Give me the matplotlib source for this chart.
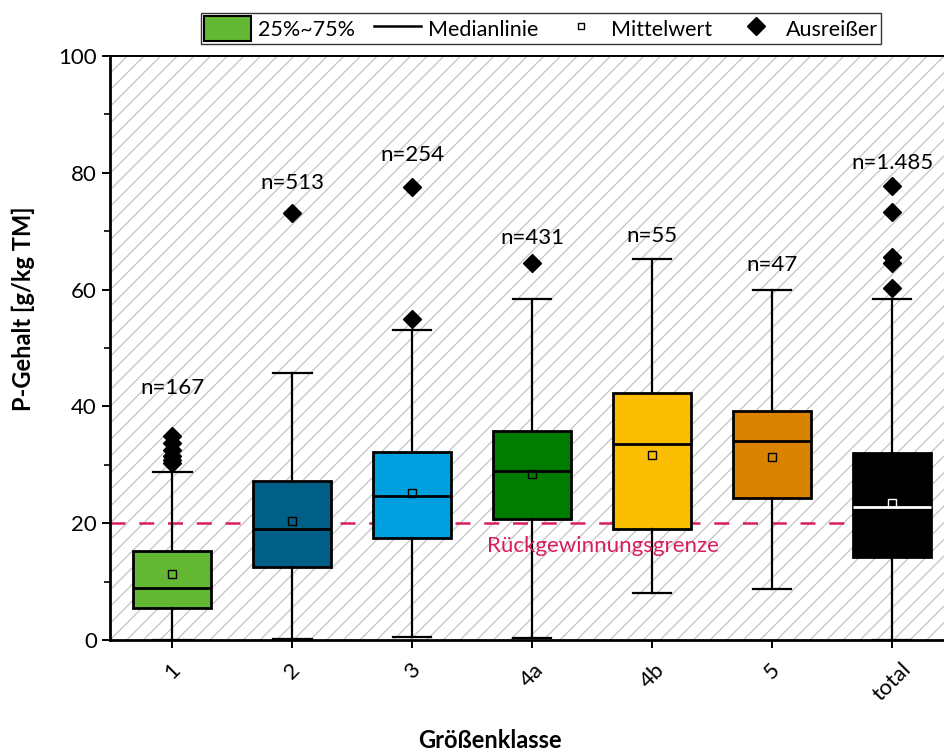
import matplotlib
matplotlib.use("Agg")
import matplotlib.pyplot as plt
from matplotlib.patches import Patch, Rectangle
from matplotlib.lines import Line2D

plt.rcParams['font.family'] = ['Lato', 'DejaVu Sans']
plt.rcParams['hatch.linewidth'] = 0.9

# P content per size class (g/kg TM), box statistics
classes  = ['1', '2', '3', '4a', '4b', '5', 'total']
q1       = [5.5, 12.5, 17.4, 20.7, 19.0, 24.3, 14.2]
median   = [8.85, 19.0, 24.7, 29.0, 33.6, 34.0, 22.8]
q3       = [15.2, 27.3, 32.2, 35.8, 42.3, 39.2, 32.1]
mean     = [11.3, 20.3, 25.1, 28.4, 31.7, 31.3, 23.4]
whis_lo  = [0.0, 0.2, 0.5, 0.4, 8.0, 8.7, 0.0]
whis_hi  = [28.8, 45.7, 53.1, 58.4, 65.3, 60.0, 58.4]
outliers = [[30.3, 30.8, 31.5, 32.5, 33.8, 35.0],
            [73.2],
            [55.0, 77.6],
            [64.5],
            [],
            [],
            [60.2, 64.5, 65.6, 73.3, 77.7]]
n_labels = ['n=167', 'n=513', 'n=254', 'n=431', 'n=55', 'n=47', 'n=1.485']
n_label_y = [43.2, 78.3, 83.0, 68.8, 69.2, 64.2, 81.7]
box_colors = ['#62b832', '#005f87', '#00a0e0', '#007d00', '#fbbd00', '#d98300', '#000000']
limit = 20

stats = [dict(label=c, q1=a, med=m, q3=b, mean=mu, whislo=lo, whishi=hi, fliers=f)
         for c, a, m, b, mu, lo, hi, f in zip(classes, q1, median, q3, mean,
                                               whis_lo, whis_hi, outliers)]

fig = plt.figure(figsize=(9.44, 7.54), dpi=100)
ax = fig.add_axes([110 / 944, 1 - 640 / 754, 842 / 944, 584 / 754])

# hatched plot background
ax.add_patch(Rectangle((0, 0), 1, 1, transform=ax.transAxes, facecolor='white',
                       edgecolor='#c4c4c4', hatch='//', lw=0, zorder=0))

pos = list(range(1, len(classes) + 1))
bp = ax.bxp(stats, positions=pos, widths=0.65, capwidths=0.32, patch_artist=True,
            showmeans=True,
            boxprops=dict(lw=2.0, edgecolor='black'),
            whiskerprops=dict(lw=1.6, color='black'),
            capprops=dict(lw=1.6, color='black'),
            medianprops=dict(lw=2.0, color='black'),
            meanprops=dict(marker='s', markersize=5.5, markerfacecolor='none',
                           markeredgecolor='black', markeredgewidth=1.0),
            flierprops=dict(marker='D', markersize=9, markerfacecolor='black',
                            markeredgecolor='black'),
            zorder=3)
for box, col in zip(bp['boxes'], box_colors):
    box.set_facecolor(col)
bp['medians'][-1].set_color('white')
bp['means'][-1].set_markeredgecolor('white')

for x, lab, y in zip(pos, n_labels, n_label_y):
    ax.text(x, y, lab, ha='center', va='center', fontsize=16, zorder=4)

ax.axhline(limit, color='#d81e5b', lw=1.8, dashes=(6, 5.5), zorder=2)
ax.text(4.59, limit - 3.9, 'Rückgewinnungsgrenze', color='#d81e5b', fontsize=16,
        ha='center', va='center', zorder=4)

ax.set_xlim(0.48, 7.5)
ax.set_ylim(0, 100)
ax.set_yticks(range(0, 101, 20))
ax.set_yticks(range(10, 100, 20), minor=True)
ax.set_xticks(pos)
ax.set_xticklabels(classes, rotation=45, ha='center')
ax.tick_params(axis='both', which='major', direction='out', length=6, width=1.4,
               labelsize=16, color='black')
ax.tick_params(axis='x', which='major', pad=8)
ax.tick_params(axis='y', which='minor', direction='out', length=4, width=1.2)
for side in ['left', 'bottom']:
    ax.spines[side].set_linewidth(2.0)
ax.spines['top'].set_linewidth(1.4)
ax.spines['right'].set_visible(False)

ax.set_ylabel('P-Gehalt [g/kg TM]', fontsize=17, fontweight='bold')
ax.yaxis.set_label_coords(-0.089, 0.567)
ax.set_xlabel('Größenklasse', fontsize=17, fontweight='bold')
ax.xaxis.set_label_coords(0.451, -0.152)

handles = [Patch(facecolor='#62b832', edgecolor='black', lw=1.5),
           Line2D([], [], color='black', lw=1.8),
           Line2D([], [], ls='none', marker='s', ms=5, mfc='none', mec='black', mew=1.0),
           Line2D([], [], ls='none', marker='D', ms=9, mfc='black', mec='black')]
labels = ['25%~75%', 'Medianlinie', 'Mittelwert', 'Ausreißer']
leg = fig.legend(handles, labels, ncol=4, loc='center', bbox_to_anchor=(0.573, 0.962),
                 fontsize=15.5, frameon=True, fancybox=False, edgecolor='black',
                 handlelength=2.2, handleheight=1.4, handletextpad=0.3,
                 columnspacing=0.9, borderpad=0.15, borderaxespad=0)
leg.get_frame().set_linewidth(1.0)

fig.savefig('out.png', dpi=100)
